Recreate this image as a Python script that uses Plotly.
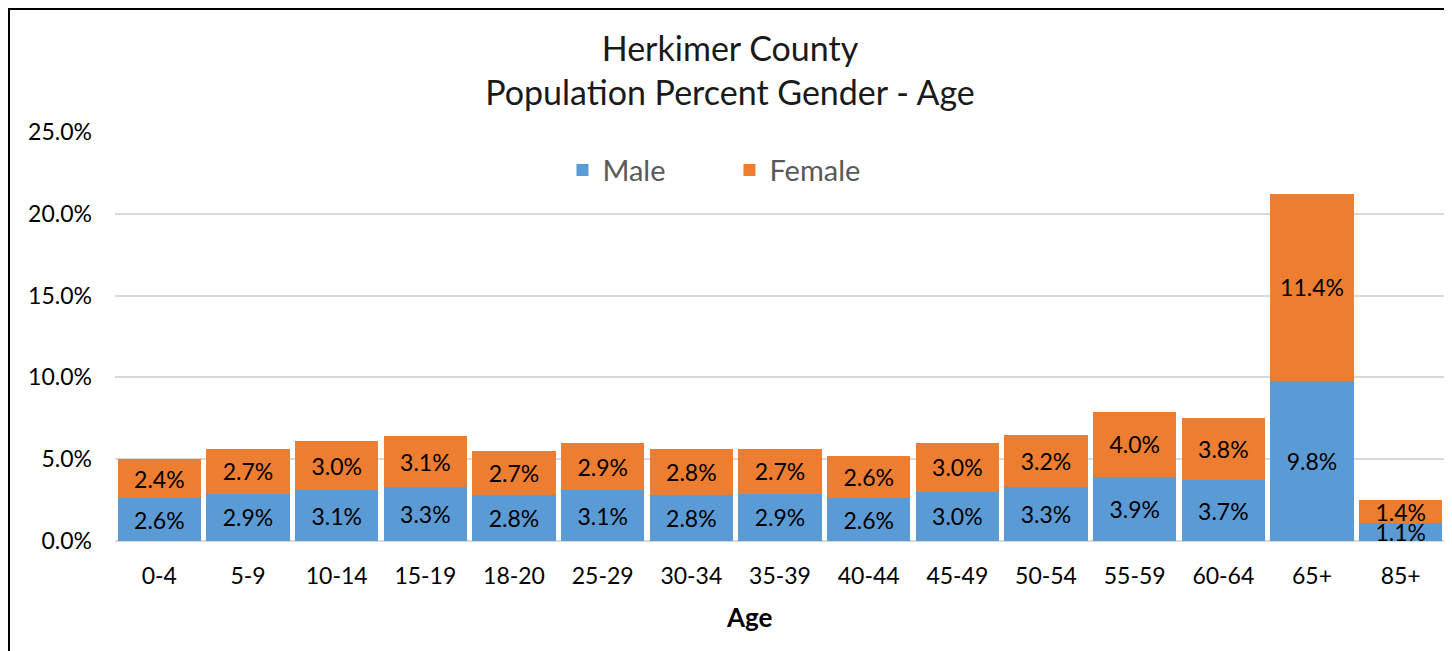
import plotly.graph_objects as go

categories = ["0-4", "5-9", "10-14", "15-19", "18-20", "25-29", "30-34", "35-39",
              "40-44", "45-49", "50-54", "55-59", "60-64", "65+", "85+"]
male = [2.6, 2.9, 3.1, 3.3, 2.8, 3.1, 2.8, 2.9, 2.6, 3.0, 3.3, 3.9, 3.7, 9.8, 1.1]
female = [2.4, 2.7, 3.0, 3.1, 2.7, 2.9, 2.8, 2.7, 2.6, 3.0, 3.2, 4.0, 3.8, 11.4, 1.4]
y_ticks = [0, 5, 10, 15, 20, 25]
y_tick_labels = ["0.0%", "5.0%", "10.0%", "15.0%", "20.0%", "25.0%"]
x_title = "Age"

FONT = "Lato, 'Open Sans', sans-serif"

fig = go.Figure()
for name, vals, color in [("Male", male, "#5B9BD5"), ("Female", female, "#ED7D31")]:
    fig.add_trace(go.Bar(
        x=categories, y=vals, name=name,
        marker=dict(color=color, line=dict(width=0)),
        text=[f"{v:.1f}%" for v in vals],
        textposition="inside", insidetextanchor="middle",
        textangle=0, constraintext="none",
        textfont=dict(family=FONT, size=23, color="#000000"),
        hoverinfo="skip",
    ))

fig.update_layout(
    barmode="stack", bargap=0.06,
    width=1444, height=643,
    margin=dict(l=107, r=7, t=124, b=110, autoexpand=False),
    paper_bgcolor="white", plot_bgcolor="white",
    font=dict(family=FONT, color="#000000"),
    title=dict(text="Herkimer County<br>Population Percent Gender - Age",
               x=0.5, xanchor="center", y=1 - 52.5 / 643, yanchor="middle",
               font=dict(family=FONT, size=34, color="#1a1a1a")),
    legend=dict(orientation="h", x=0.462, xanchor="center", y=0.907, yanchor="middle",
                font=dict(family=FONT, size=29, color="#595959"),
                bgcolor="rgba(0,0,0,0)", entrywidth=122, traceorder="normal"),
    xaxis=dict(showgrid=False, tickfont=dict(family=FONT, size=23, color="#000000"),
               ticklabelstandoff=19, showline=False, zeroline=False, automargin=False),
    yaxis=dict(range=[0, 25], tickvals=y_ticks, ticktext=y_tick_labels,
               showgrid=True, gridcolor="#D9D9D9", gridwidth=1.5,
               zeroline=True, zerolinecolor="#D9D9D9", zerolinewidth=2,
               tickfont=dict(family=FONT, size=23, color="#000000"),
               ticklabelstandoff=22, showline=False, automargin=False),
    showlegend=True,
)

fig.add_annotation(text=f"<b>{x_title}</b>", xref="paper", yref="paper",
                   x=0.477, y=-0.186, xanchor="center", yanchor="middle",
                   showarrow=False, font=dict(family=FONT, size=26, color="#000000"))

fig.add_shape(type="rect", xref="paper", yref="paper",
              x0=-0.0797, x1=1.0008, y0=-0.5, y1=1.3007,
              line=dict(color="#000000", width=2), fillcolor="rgba(0,0,0,0)", layer="above")

fig.write_html("out.html")
